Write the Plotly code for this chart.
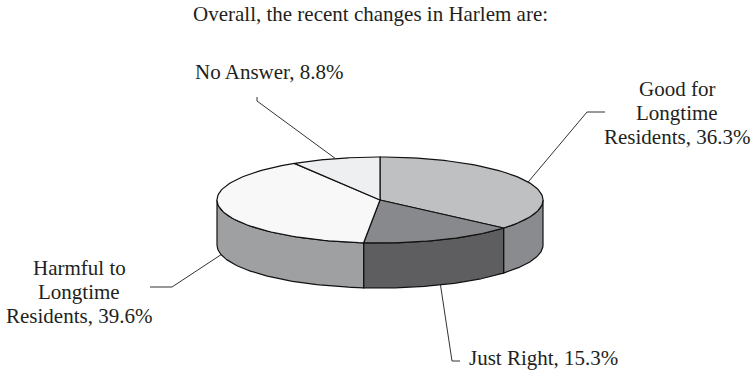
import numpy as np
import plotly.graph_objects as go

# Survey responses
categories = ["Good for<br>Longtime<br>Residents", "Just Right",
              "Harmful to<br>Longtime<br>Residents", "No Answer"]
values = [36.3, 15.3, 39.6, 8.8]
title_text = "Overall, the recent changes in Harlem are:"

# Slice styling: top face colour and side wall colour
top_colors = ["#bfc0c2", "#88898c", "#f8f8f8", "#eeeff1"]
side_colors = ["#8a8b8e", "#5e5e60", "#9fa0a2", "#cfd0d2"]

# Tilted-disc geometry (plot units are pixels)
W, H = 753, 376
cx, cy = 380, 200
rx, ry = 163, 43
depth = 45

FONT = "Liberation Serif"
FSIZE = 21
LINE_H = 24
TXT = "#231f20"


def pt(theta, dz=0.0):
    t = np.radians(theta)
    return cx + rx * np.cos(t), cy - ry * np.sin(t) + dz


def arc(a, b, dz=0.0, n=80):
    th = np.linspace(a, b, n)
    xs, ys = pt(th, dz)
    return list(xs), list(ys)


fig = go.Figure()

total = sum(values)
bounds = []
start = 90.0
for v in values:
    end = start - 360.0 * v / total
    bounds.append((start, end))
    start = end

# Side walls: only the part of each slice on the front half (-180..0 deg)
for (s, e), col in zip(bounds, side_colors):
    a, b = min(s, 0.0), max(e, -180.0)
    if a <= b:
        continue
    xt, yt = arc(a, b)
    xb, yb = arc(b, a, depth)
    fig.add_trace(go.Scatter(
        x=xt + xb + [xt[0]], y=yt + yb + [yt[0]],
        mode="lines", fill="toself", fillcolor=col,
        line=dict(color="#111111", width=1.2), hoverinfo="skip",
        showlegend=False))

# Top faces
for (s, e), col in zip(bounds, top_colors):
    xa, ya = arc(s, e)
    fig.add_trace(go.Scatter(
        x=[cx] + xa + [cx], y=[cy] + ya + [cy],
        mode="lines", fill="toself", fillcolor=col,
        line=dict(color="#111111", width=1.2), hoverinfo="skip",
        showlegend=False))

# Label placement: block centre, elbow and end of leader line
label_layout = [
    dict(pos=(677, 113), xanchor="center", elbow=(587, 112), end=(605, 112)),
    dict(pos=(467, 358), xanchor="left", elbow=(452, 361), end=(460, 361)),
    dict(pos=(79, 292), xanchor="center", elbow=(172, 287), end=(150, 287)),
    dict(pos=(269, 72), xanchor="center", elbow=(257, 101), end=(257, 97)),
]

for (s, e), name, v, lay in zip(bounds, categories, values, label_layout):
    mid = (s + e) / 2.0
    # anchor on the visible rim: bottom edge for the front half
    dz = depth if np.sin(np.radians(mid)) < 0 else 0.0
    ax, ay = pt(mid, dz)
    fig.add_trace(go.Scatter(
        x=[ax, lay["elbow"][0], lay["end"][0]],
        y=[ay, lay["elbow"][1], lay["end"][1]],
        mode="lines", line=dict(color="#333333", width=1),
        hoverinfo="skip", showlegend=False))
    lines = f"{name}, {v:.1f}%".split("<br>")
    y0 = lay["pos"][1] - LINE_H * (len(lines) - 1) / 2.0
    for i, ln in enumerate(lines):
        fig.add_annotation(
            x=lay["pos"][0], y=y0 + i * LINE_H, text=ln,
            showarrow=False, xanchor=lay["xanchor"], yanchor="middle",
            align="center", font=dict(family=FONT, size=FSIZE, color=TXT))

fig.add_annotation(
    x=370, y=14, text=title_text, showarrow=False,
    xanchor="center", yanchor="middle",
    font=dict(family=FONT, size=FSIZE, color=TXT))

fig.update_xaxes(range=[0, W], visible=False, fixedrange=True)
fig.update_yaxes(range=[H, 0], visible=False, fixedrange=True)
fig.update_layout(
    width=W, height=H, margin=dict(l=0, r=0, t=0, b=0),
    paper_bgcolor="white", plot_bgcolor="white", showlegend=False)

fig.write_html("out.html")
